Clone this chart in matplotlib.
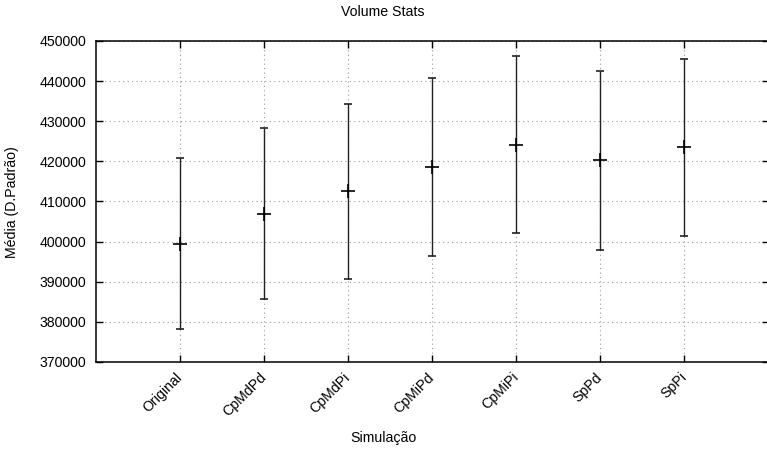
import matplotlib
matplotlib.use("Agg")
import matplotlib.pyplot as plt

# Data
simulacoes = ["Original", "CpMdPd", "CpMdPi", "CpMiPd", "CpMiPi", "SpPd", "SpPi"]
medias = [399500, 407000, 412500, 418550, 424200, 420300, 423500]
desvios = [21400, 21250, 21800, 22150, 22100, 22300, 22000]

plt.rcParams["font.family"] = ["Liberation Sans", "DejaVu Sans"]
plt.rcParams["font.size"] = 10.2

fig = plt.figure(figsize=(7.67, 4.55), dpi=100)
ax = fig.add_axes([96 / 767, 93 / 455, 673 / 767, 321 / 455])

x = list(range(len(simulacoes)))

# Error bars with gnuplot-like "+" marker at the mean
ax.errorbar(
    x,
    medias,
    yerr=desvios,
    fmt="+",
    color="black",
    ecolor="#222222",
    elinewidth=1.0,
    capsize=3,
    capthick=1.2,
    markersize=9.5,
    markeredgewidth=1.2,
    zorder=3,
)

ax.set_xlim(-1, 7.01)
ax.set_ylim(370000, 450000)
ax.set_yticks(range(370000, 450001, 10000))
ax.set_xticks(x)
ax.set_xticklabels(simulacoes, rotation=45, ha="right", va="center",
                   rotation_mode="anchor")

# Dotted grid behind the bars
ax.grid(True, linestyle=(0, (1, 3)), color="#999999", linewidth=0.8, zorder=0)
ax.set_axisbelow(True)

ax.tick_params(axis="both", direction="in", length=5, width=1.0,
               top=True, right=True, colors="black")
ax.tick_params(axis="y", pad=7.2)
ax.tick_params(axis="x", pad=9.5)

for spine in ax.spines.values():
    spine.set_linewidth(1.1)
# right border falls outside the picture in the original
ax.spines["right"].set_visible(False)

fig.text(383 / 767, 1 - 12 / 455, "Volume Stats", ha="center", va="center")
fig.text(383 / 767, 1 - 438 / 455, "Simulação", ha="center", va="center")
fig.text(12 / 767, 1 - 202 / 455, "Média (D.Padrão)", ha="center", va="center",
         rotation=90)

fig.savefig("out.png", dpi=100)
